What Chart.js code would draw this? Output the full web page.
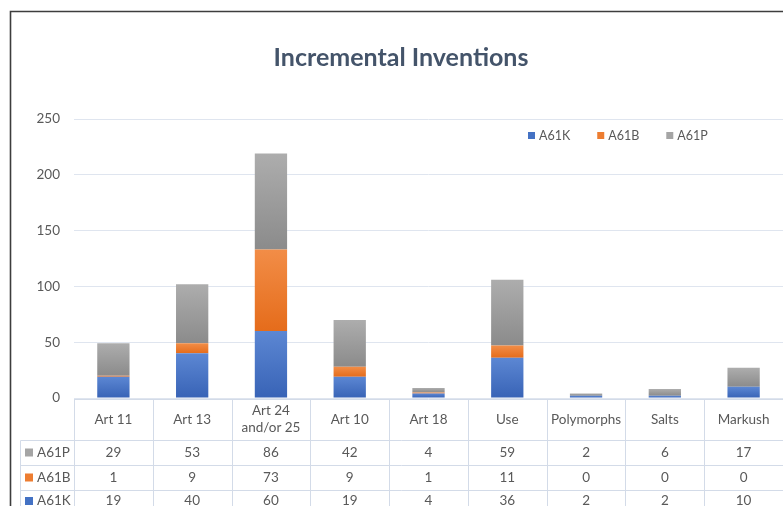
<!DOCTYPE html>
<html><head><meta charset="utf-8">
<script src="https://cdn.jsdelivr.net/npm/chart.js@4/dist/chart.umd.min.js"></script>
<style>html,body{margin:0;padding:0;background:#fff}#wrap{width:783px;height:506px;position:relative}</style>
</head><body><div id="wrap"><canvas id="c" width="783" height="506"></canvas></div>
<script>
const categories = [['Art 11'],['Art 13'],['Art 24','and/or 25'],['Art 10'],['Art 18'],['Use'],['Polymorphs'],['Salts'],['Markush']];
const seriesNames = ['A61K','A61B','A61P'];
const a61k = [19,40,60,19,4,36,2,2,10];
const a61b = [1,9,73,9,1,11,0,0,0];
const a61p = [29,53,86,42,4,59,2,6,17];
const yTickMax = 250;
const yTickStep = 50;
const chartTitle = 'Incremental Inventions';

const seriesValues = [a61k, a61b, a61p];
const seriesColors = [['#5c87d3','#3863b6'],['#f28d47','#e56c1b'],['#adadad','#8b8b8b']];
const solid = ['#4472c4','#ed7d31','#a5a5a5'];
const FONT = 'Lato, "Open Sans", sans-serif';
const TXT = '#595959';

function grad(di){
  return function(ctx){
    const ch = ctx.chart, y = ch.scales && ch.scales.y;
    const i = ctx.dataIndex;
    if (!y || i === undefined || !ch.chartArea) return solid[di];
    let s = 0;
    for (let k = 0; k < di; k++) s += seriesValues[k][i];
    const e = s + seriesValues[di][i];
    const y0 = y.getPixelForValue(e), y1 = y.getPixelForValue(s);
    if (y1 - y0 < 1) return seriesColors[di][1];
    const g = ch.ctx.createLinearGradient(0, y0, 0, y1);
    g.addColorStop(0, seriesColors[di][0]);
    g.addColorStop(1, seriesColors[di][1]);
    return g;
  };
}

const decor = {
  id: 'decor',
  afterDraw(chart){
    const c = chart.ctx, a = chart.chartArea, x = chart.scales.x;
    c.save();
    // title
    c.fillStyle = '#44546a';
    c.font = 'bold 25px ' + FONT;
    c.textAlign = 'center'; c.textBaseline = 'middle';
    c.fillText(chartTitle, 401, 58);
    // legend
    c.font = '12.5px ' + FONT;
    c.textAlign = 'left';
    let lx = 528;
    seriesNames.forEach((n, k) => {
      c.fillStyle = solid[k];
      c.fillRect(lx, 132, 7, 7);
      c.fillStyle = TXT;
      c.fillText(n, lx + 11, 136);
      lx += 11 + c.measureText(n).width + 27;
    });
    // table
    const n = categories.length;
    const w = x.getPixelForValue(1) - x.getPixelForValue(0);
    const x0 = x.getPixelForValue(0) - w / 2;
    const top = a.bottom + 1.5;
    const rowsY = [440.5, 465.5, 490.5];
    const tLeft = 20.5;
    c.strokeStyle = '#d3dbe8'; c.lineWidth = 1;
    c.beginPath();
    c.moveTo(x0, top); c.lineTo(783, top);
    rowsY.forEach(r => { c.moveTo(tLeft, r); c.lineTo(783, r); });
    for (let i = 0; i <= n; i++) {
      const bx = Math.round(x0 + i * w) + 0.5;
      c.moveTo(bx, top); c.lineTo(bx, 506);
    }
    c.moveTo(tLeft, rowsY[0]); c.lineTo(tLeft, 506);
    c.stroke();
    c.fillStyle = TXT;
    c.font = '13.5px ' + FONT;
    c.textAlign = 'center'; c.textBaseline = 'middle';
    categories.forEach((lab, i) => {
      const cx = x.getPixelForValue(i);
      if (lab.length === 1) c.fillText(lab[0], cx, 420);
      else { c.fillText(lab[0], cx, 411); c.fillText(lab[1], cx, 428); }
    });
    const rowOrder = [2, 1, 0];
    const rowCY = [452.5, 477.5, 501];
    rowOrder.forEach((k, r) => {
      c.fillStyle = solid[k];
      c.fillRect(25, rowCY[r] - 4, 8, 8);
      c.fillStyle = TXT;
      c.textAlign = 'left';
      c.fillText(seriesNames[k], 37, rowCY[r]);
      c.textAlign = 'center';
      seriesValues[k].forEach((v, i) => c.fillText(String(v), x.getPixelForValue(i), rowCY[r]));
    });
    // outer frame
    c.strokeStyle = '#3d3d3d'; c.lineWidth = 1.6;
    c.beginPath();
    c.moveTo(10.5, 506); c.lineTo(10.5, 11.5); c.lineTo(783, 11.5);
    c.stroke();
    c.restore();
  }
};

new Chart(document.getElementById('c'), {
  type: 'bar',
  data: {
    labels: categories.map(l => l.join(' ')),
    datasets: seriesNames.map((name, k) => ({
      label: name,
      data: seriesValues[k],
      backgroundColor: grad(k),
      borderWidth: 0,
      barPercentage: 0.41,
      categoryPercentage: 1
    }))
  },
  options: {
    responsive: false,
    animation: false,
    layout: { padding: { left: 10, right: 0, top: 119, bottom: 108 } },
    plugins: { legend: { display: false }, title: { display: false }, tooltip: { enabled: false } },
    scales: {
      x: { stacked: true, display: false },
      y: {
        stacked: true, min: 0, max: yTickMax,
        afterFit(s){ s.width = 64; },
        border: { display: false },
        grid: { color: '#dfe5ef', drawTicks: false, lineWidth: 1 },
        ticks: { stepSize: yTickStep, padding: 14, color: TXT, font: { family: FONT, size: 13.5 } }
      }
    }
  },
  plugins: [decor]
});
</script>
</body></html>
